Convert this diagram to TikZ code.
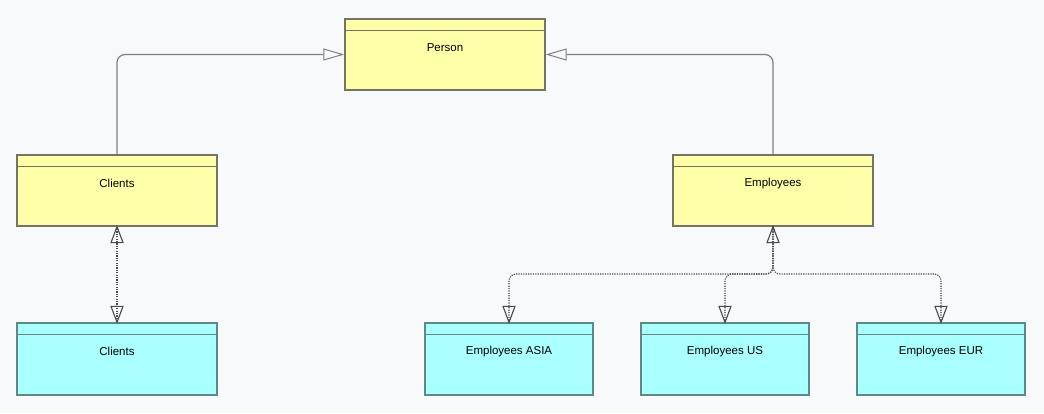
\documentclass[tikz,border=0pt]{standalone}
\usepackage{fontspec}
\setmainfont{Liberation Sans}
\usetikzlibrary{arrows.meta,calc}
\definecolor{bg}{HTML}{F8F9FB}
\definecolor{yfill}{HTML}{FFFFAA}
\definecolor{ydraw}{HTML}{747462}
\definecolor{cfill}{HTML}{AAFFFF}
\definecolor{cdraw}{HTML}{5F8888}
\definecolor{solidline}{HTML}{7F7F85}
\definecolor{dotline}{HTML}{4A4A50}
\tikzset{
  x=1pt,y=1pt,
  ybox/.style={draw=ydraw,fill=yfill,line width=1.3pt,minimum width=200pt,minimum height=71pt,inner sep=0pt},
  cbox/.style={draw=cdraw,fill=cfill,line width=1.3pt,minimum width=168pt,minimum height=72pt,inner sep=0pt},
  lbl/.style={font=\fontsize{11.5}{13}\selectfont,inner sep=0pt},
  gen/.style={draw=solidline,line width=1.2pt,rounded corners=8pt,-{Triangle[open,length=21pt,width=12pt,line width=1pt]}},
  dep/.style={draw=dotline,line width=1.1pt,dash pattern=on 1.2pt off 1.2pt,rounded corners=7pt},
  deptri/.pic={\draw[draw=dotline,solid,line width=1.1pt,line join=miter] (0,0) -- (-6,-16) -- (6,-16) -- cycle;},
}
\newcommand{\hdr}[2]{\draw[draw=#2,line width=1.3pt] ($(#1.north west)+(0,-12)$) -- ($(#1.north east)+(0,-12)$);}
\begin{document}
\begin{tikzpicture}
\fill[bg] (0,0) rectangle (1044,413);
\useasboundingbox (0,0) rectangle (1044,413);
% boxes
\node[ybox] (person) at (445,358.5) {};
\node[ybox] (clients) at (117,222.5) {};
\node[ybox] (employees) at (773,222.5) {};
\node[cbox,minimum width=200pt] (clientsb) at (117,54) {};
\node[cbox] (asia) at (509,54) {};
\node[cbox] (us) at (725,54) {};
\node[cbox] (eur) at (941,54) {};
\hdr{person}{ydraw}
\hdr{clients}{ydraw}
\hdr{employees}{ydraw}
\hdr{clientsb}{cdraw}
\hdr{asia}{cdraw}
\hdr{us}{cdraw}
\hdr{eur}{cdraw}
\node[lbl] (tperson) at ($(person.north)+(0,-29)$) {Person};
\node[lbl] (tclients) at ($(clients.north)+(0,-29)$) {Clients};
\node[lbl] (temployees) at ($(employees.north)+(0,-29)$) {Employees};
\node[lbl] (tclientsb) at ($(clientsb.north)+(0,-29)$) {Clients};
\node[lbl] (tasia) at ($(asia.north)+(0,-29)$) {Employees ASIA};
\node[lbl] (tus) at ($(us.north)+(0,-29)$) {Employees US};
\node[lbl] (teur) at ($(eur.north)+(0,-29)$) {Employees EUR};
% generalisation
\draw[gen] (clients.north) |- (person.west);
\draw[gen] (employees.north) |- (person.east);
% dependencies
\coordinate (split) at (773,139);
\draw[dep] (clients.south) -- (clientsb.north);
\draw[dep] (employees.south) -- (split) -| (asia.north);
\draw[dep] (employees.south) -- (split) -| (us.north);
\draw[dep] (employees.south) -- (split) -| (eur.north);
% open arrow tips
\pic at (clients.south) {deptri};
\pic[rotate=180] at (clientsb.north) {deptri};
\pic at (employees.south) {deptri};
\pic[rotate=180] at (asia.north) {deptri};
\pic[rotate=180] at (us.north) {deptri};
\pic[rotate=180] at (eur.north) {deptri};
\end{tikzpicture}
\end{document}
